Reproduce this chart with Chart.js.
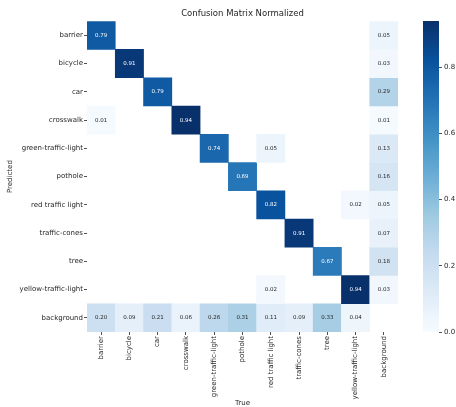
<!DOCTYPE html>
<html>
<head>
<meta charset="utf-8">
<script src="https://cdn.jsdelivr.net/npm/chart.js@4.4.1/dist/chart.umd.min.js"></script>
<style>
  html, body { margin: 0; padding: 0; background: #fff; overflow: hidden; }
  #wrap { position: relative; width: 456px; height: 407px; }
  #matrix { position: absolute; left: 0; top: 0; }
  #cbar { position: absolute; left: 415px; top: 0; }
</style>
</head>
<body>
<div id="wrap">
  <canvas id="matrix" width="456" height="407"></canvas>
  <canvas id="cbar" width="60" height="407"></canvas>
</div>
<script>
// class names (columns = True, rows = Predicted)
const trueLabels = ['barrier', 'bicycle', 'car', 'crosswalk', 'green-traffic-light', 'pothole',
  'red traffic light', 'traffic-cones', 'tree', 'yellow-traffic-light', 'background'];
const predLabels = trueLabels.slice();

// one row per predicted class, 0 = empty cell
const rowBarrier    = [0.79, 0, 0, 0, 0, 0, 0, 0, 0, 0, 0.05];
const rowBicycle    = [0, 0.91, 0, 0, 0, 0, 0, 0, 0, 0, 0.03];
const rowCar        = [0, 0, 0.79, 0, 0, 0, 0, 0, 0, 0, 0.29];
const rowCrosswalk  = [0.01, 0, 0, 0.94, 0, 0, 0, 0, 0, 0, 0.01];
const rowGreenLight = [0, 0, 0, 0, 0.74, 0, 0.05, 0, 0, 0, 0.13];
const rowPothole    = [0, 0, 0, 0, 0, 0.69, 0, 0, 0, 0, 0.16];
const rowRedLight   = [0, 0, 0, 0, 0, 0, 0.82, 0, 0, 0.02, 0.05];
const rowCones      = [0, 0, 0, 0, 0, 0, 0, 0.91, 0, 0, 0.07];
const rowTree       = [0, 0, 0, 0, 0, 0, 0, 0, 0.67, 0, 0.18];
const rowYellow     = [0, 0, 0, 0, 0, 0, 0.02, 0, 0, 0.94, 0.03];
const rowBackground = [0.20, 0.09, 0.21, 0.06, 0.26, 0.31, 0.11, 0.09, 0.33, 0.04, 0];

const colorbarTicks = [0, 0.2, 0.4, 0.6, 0.8];

const matrix = [rowBarrier, rowBicycle, rowCar, rowCrosswalk, rowGreenLight, rowPothole,
  rowRedLight, rowCones, rowTree, rowYellow, rowBackground];
const vmax = Math.max(...matrix.flat());

const FONT = 'DejaVu Sans';
const INK = '#262626';

// matplotlib "Blues"
const blues = ['#f7fbff', '#deebf7', '#c6dbef', '#9ecae1', '#6baed6', '#4292c6', '#2171b5', '#08519c', '#08306b'];
function hex(h){ return [1, 3, 5].map(k => parseInt(h.substr(k, 2), 16)); }
function bluesAt(t){
  t = Math.max(0, Math.min(1, t));
  const pos = t * (blues.length - 1);
  const i = Math.min(Math.floor(pos), blues.length - 2);
  const f = pos - i;
  const a = hex(blues[i]), b = hex(blues[i + 1]);
  const c = a.map((v, k) => Math.round(v + (b[k] - v) * f));
  return `rgb(${c[0]},${c[1]},${c[2]})`;
}

// each row is a dataset of floating bars spanning one unit on the y scale
const datasets = matrix.map((row, i) => ({
  label: predLabels[i],
  data: row.map(v => v > 0 ? [i - 0.5, i + 0.5] : null),
  backgroundColor: row.map(v => bluesAt(v / vmax)),
  borderWidth: 0
}));

const cellText = {
  id: 'cellText',
  afterDatasetsDraw(chart){
    const ctx = chart.ctx;
    ctx.save();
    ctx.font = `5.5px "${FONT}"`;
    ctx.textAlign = 'center';
    ctx.textBaseline = 'middle';
    matrix.forEach((row, i) => {
      const meta = chart.getDatasetMeta(i);
      row.forEach((v, j) => {
        if (!v) return;
        const el = meta.data[j];
        ctx.fillStyle = v / vmax > 0.47 ? '#ffffff' : INK;
        ctx.fillText(v.toFixed(2), el.x, (el.y + el.base) / 2);
      });
    });
    ctx.restore();
  }
};

const tickGrid = { display: true, drawOnChartArea: false, offset: false, tickLength: 3, tickColor: INK, tickWidth: 0.8 };

new Chart(document.getElementById('matrix'), {
  type: 'bar',
  data: { labels: trueLabels, datasets },
  plugins: [cellText],
  options: {
    responsive: false,
    animation: false,
    layout: { padding: { left: 0, right: 58, top: 0, bottom: 0 } },
    datasets: { bar: { grouped: false, barPercentage: 1, categoryPercentage: 1 } },
    plugins: {
      legend: { display: false },
      tooltip: { enabled: false },
      title: {
        display: true, text: 'Confusion Matrix Normalized', fullSize: false,
        color: INK, font: { family: FONT, size: 8.5, weight: 'normal' },
        padding: { top: 9, bottom: 2 }
      }
    },
    scales: {
      x: {
        type: 'category', offset: true,
        grid: tickGrid, border: { display: false },
        ticks: { minRotation: 90, maxRotation: 90, autoSkip: false, padding: 1, color: INK, font: { family: FONT, size: 7 } },
        title: { display: true, text: 'True', color: INK, font: { family: FONT, size: 7 }, padding: { top: 0, bottom: 0 } },
        afterFit: s => { s.height = 75; }
      },
      y: {
        type: 'linear', min: -0.5, max: 10.5, reverse: true,
        afterBuildTicks: s => { s.ticks = predLabels.map((_, i) => ({ value: i })); },
        grid: tickGrid, border: { display: false },
        ticks: { autoSkip: false, padding: 1, color: INK, font: { family: FONT, size: 7 }, callback: v => predLabels[v] },
        title: { display: true, text: 'Predicted', color: INK, font: { family: FONT, size: 7 }, padding: { top: 6, bottom: 0 } },
        afterFit: s => { s.width = 87; }
      }
    }
  }
});

// colour bar
new Chart(document.getElementById('cbar'), {
  type: 'bar',
  data: {
    labels: [''],
    datasets: [{
      data: [[0, vmax]],
      borderWidth: 0,
      backgroundColor: c => {
        const a = c.chart.chartArea;
        if (!a) return blues[4];
        const g = c.chart.ctx.createLinearGradient(0, a.bottom, 0, a.top);
        blues.forEach((col, k) => g.addColorStop(k / (blues.length - 1), col));
        return g;
      }
    }]
  },
  options: {
    responsive: false,
    animation: false,
    layout: { padding: { left: 8, right: 0, top: 21, bottom: 75 } },
    datasets: { bar: { barPercentage: 1, categoryPercentage: 1 } },
    plugins: { legend: { display: false }, tooltip: { enabled: false } },
    scales: {
      x: { display: false },
      y: {
        position: 'right', min: 0, max: vmax,
        afterBuildTicks: s => { s.ticks = colorbarTicks.map(v => ({ value: v })); },
        grid: tickGrid, border: { display: false },
        ticks: { padding: 2, color: INK, font: { family: FONT, size: 7 }, callback: v => v.toFixed(1) },
        afterFit: s => { s.width = 36; }
      }
    }
  }
});
</script>
</body>
</html>
